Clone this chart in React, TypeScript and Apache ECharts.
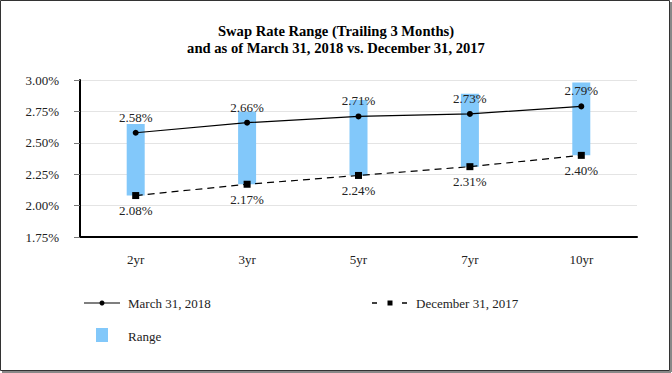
import React, { useEffect, useRef } from "react";
import * as echarts from "echarts";

const categories = ["2yr", "3yr", "5yr", "7yr", "10yr"];
const march2018 = [2.58, 2.66, 2.71, 2.73, 2.79];
const dec2017 = [2.08, 2.17, 2.24, 2.31, 2.4];
const rangeLow = [2.08, 2.17, 2.24, 2.31, 2.4];
const rangeHigh = [2.65, 2.75, 2.84, 2.89, 2.98];

const FONT = "'Liberation Serif', 'Times New Roman', serif";
const BAR_COLOR = "#82C8FA";

export default function App() {
  const ref = useRef<HTMLDivElement>(null);
  useEffect(() => {
    document.body.style.margin = "0";
    if (!ref.current) return;
    const chart = echarts.init(ref.current, undefined, { renderer: "svg" });
    const rangeSpan = rangeHigh.map((h, i) => Math.round((h - rangeLow[i]) * 100) / 100);
    chart.setOption({
      animation: false,
      backgroundColor: "#fff",
      title: {
        text: "Swap Rate Range (Trailing 3 Months)\nand as of March 31, 2018 vs. December 31, 2017",
        left: "center",
        top: 18,
        textStyle: { fontFamily: FONT, fontSize: 14.6, fontWeight: "bold", lineHeight: 16.5, color: "#000" },
      },
      grid: { left: 80, right: 35, top: 80, bottom: 136 },
      xAxis: {
        type: "category",
        data: categories,
        boundaryGap: true,
        axisLine: { lineStyle: { color: "#000", width: 2 } },
        axisTick: { alignWithLabel: true, length: 6, lineStyle: { color: "#777" } },
        axisLabel: { margin: 16, fontFamily: FONT, fontSize: 13, color: "#222" },
      },
      yAxis: {
        type: "value",
        min: 1.75,
        max: 3.0,
        interval: 0.25,
        axisLine: { show: true, lineStyle: { color: "#000", width: 2 } },
        axisTick: { show: true, length: 6, lineStyle: { color: "#777" } },
        splitLine: { lineStyle: { color: "#e4e4e4" } },
        axisLabel: {
          margin: 21,
          fontFamily: FONT,
          fontSize: 13,
          color: "#222",
          formatter: (v: number) => v.toFixed(2) + "%",
        },
      },
      series: [
        {
          type: "bar",
          stack: "range",
          data: rangeLow,
          barWidth: 18,
          itemStyle: { color: "transparent" },
          silent: true,
          z: 1,
        },
        {
          type: "bar",
          stack: "range",
          name: "Range",
          data: rangeSpan,
          barWidth: 18,
          itemStyle: { color: BAR_COLOR },
          z: 1,
        },
        {
          type: "line",
          name: "March 31, 2018",
          data: march2018,
          symbol: "circle",
          symbolSize: 6,
          lineStyle: { color: "#000", width: 1.2 },
          itemStyle: { color: "#000" },
          label: {
            show: true,
            position: "top",
            distance: 6,
            fontFamily: FONT,
            fontSize: 13,
            color: "#222",
            formatter: (p: any) => p.value.toFixed(2) + "%",
          },
          z: 5,
        },
        {
          type: "line",
          name: "December 31, 2017",
          data: dec2017,
          symbol: "rect",
          symbolSize: 7,
          lineStyle: { color: "#000", width: 1.2, type: [7, 5] },
          itemStyle: { color: "#000" },
          label: {
            show: true,
            position: "bottom",
            distance: 5,
            fontFamily: FONT,
            fontSize: 13,
            color: "#222",
            formatter: (p: any) => p.value.toFixed(2) + "%",
          },
          z: 5,
        },
      ],
      graphic: [
        { type: "rect", shape: { x: 0.5, y: 0.5, width: 669, height: 370 }, style: { fill: "none", stroke: "#333", lineWidth: 1 }, silent: true },
        { type: "line", shape: { x1: 671, y1: 2, x2: 671, y2: 372 }, style: { stroke: "#888", lineWidth: 2 }, silent: true },
        { type: "line", shape: { x1: 2, y1: 372, x2: 671, y2: 372 }, style: { stroke: "#888", lineWidth: 2 }, silent: true },
        // legend: March
        { type: "line", shape: { x1: 84, y1: 303, x2: 120, y2: 303 }, style: { stroke: "#000", lineWidth: 1.2 } },
        { type: "circle", shape: { cx: 102, cy: 303, r: 2.5 }, style: { fill: "#000" } },
        { type: "text", x: 128, y: 303, style: { text: "March 31, 2018", fontFamily: FONT, fontSize: 13, fill: "#222", verticalAlign: "middle" } },
        // legend: December
        { type: "line", shape: { x1: 372, y1: 303, x2: 377, y2: 303 }, style: { stroke: "#000", lineWidth: 1.5 } },
        { type: "rect", shape: { x: 387.5, y: 300.5, width: 5, height: 5 }, style: { fill: "#000" } },
        { type: "line", shape: { x1: 402, y1: 303, x2: 407, y2: 303 }, style: { stroke: "#000", lineWidth: 1.5 } },
        { type: "text", x: 416, y: 303, style: { text: "December 31, 2017", fontFamily: FONT, fontSize: 13, fill: "#222", verticalAlign: "middle" } },
        // legend: Range
        { type: "rect", shape: { x: 96, y: 328, width: 12, height: 14 }, style: { fill: BAR_COLOR } },
        { type: "text", x: 128, y: 336, style: { text: "Range", fontFamily: FONT, fontSize: 13, fill: "#222", verticalAlign: "middle" } },
      ],
    });
    return () => chart.dispose();
  }, []);
  return <div ref={ref} style={{ width: 672, height: 373 }} />;
}
